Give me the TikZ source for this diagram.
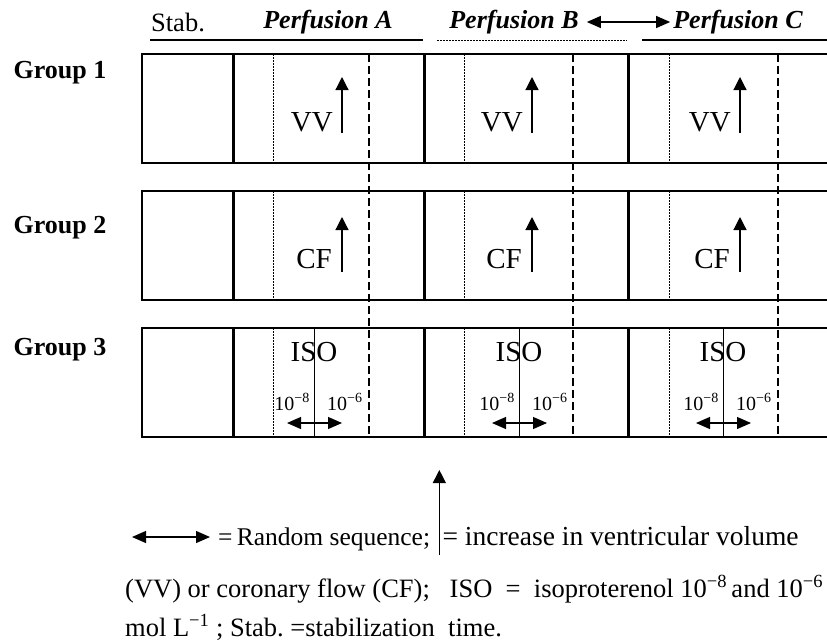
\documentclass[tikz,border=0pt]{standalone}
\usepackage{fontspec}
\setmainfont{Liberation Serif}
\usetikzlibrary{arrows.meta,positioning}
\begin{document}
\begin{tikzpicture}
  [
  x=1pt,y=-1pt,
  txt/.style={inner sep=0pt,font=\fontsize{26.5}{30}\selectfont},
  bigtxt/.style={inner sep=0pt,font=\fontsize{27.5}{30}\selectfont},
  smalltxt/.style={inner sep=0pt,font=\fontsize{25.5}{28}\selectfont},
  grouplabel/.style={inner sep=0pt,font=\fontsize{26}{30}\selectfont\bfseries},
  perfhead/.style={inner sep=0pt,font=\fontsize{26}{30}\selectfont\bfseries\itshape},
  tag/.style={inner sep=0pt,font=\fontsize{29}{32}\selectfont},
  conc/.style={inner sep=0pt,font=\fontsize{20}{24}\selectfont},
  frame/.style={line width=1.1pt},
  thickbar/.style={line width=3pt},
  thinbar/.style={line width=0.7pt},
  dotbar/.style={line width=0.8pt,dash pattern=on 1.5pt off 1.5pt},
  dashbar/.style={line width=1.1pt,dash pattern=on 8pt off 4pt},
  upar/.style={line width=1.2pt,-{Triangle[length=13pt,width=13pt]}},
  rand/.style={line width=1.2pt,{Triangle[length=14pt,width=12pt]}-{Triangle[length=14pt,width=12pt]}}
  ]
  \useasboundingbox (0,0) rectangle (827,643);

  % header
  \node (stab) at (178,22) [txt] {Stab.};
  \node (perfA) at (328,22) [perfhead] {Perfusion A};
  \node (perfB) at (514,22) [perfhead] {Perfusion B};
  \node (perfC) at (738,22) [perfhead] {Perfusion C};
  \draw [rand] ([xshift=8pt]perfB.east) -- ([xshift=-3pt]perfC.west);
  \draw [frame] (150,40) -- (423,40);
  \draw [dotbar] (437,40) -- (627,40);
  \draw [frame] (642,40) -- (830,40);

  % groups
  \foreach \g/\gtop/\ly in {1/54/73,2/191/228,3/328/350}
  {
    \draw [frame] (830,\gtop) -- (142,\gtop) -- (142,\gtop+109) -- (830,\gtop+109);
    \node (group\g) at (60,\ly) [grouplabel] {Group \g};
    \foreach \px in {233,424,628}
      \draw [thickbar] (\px,\gtop) -- (\px,\gtop+109);
    \foreach \px in {273,464,669}
      \draw [dotbar] (\px,\gtop) -- (\px,\gtop+109);
  }
  \foreach \px in {369,573,778}
    \draw [dashbar] (\px,54) -- (\px,437);

  % VV and CF
  \foreach \px [count=\k] in {342,532,740}
  {
    \node (vv\k) at (\px-9,54+77) [tag,anchor=base east] {VV};
    \coordinate (vvlo\k) at (\px,54+79);
    \coordinate (vvhi\k) at (\px,54+23);
    \draw [upar] (vvlo\k) -- (vvhi\k);
    \node (cf\k) at (\px-10,191+77) [tag,anchor=base east] {CF};
    \coordinate (cflo\k) at (\px,191+81);
    \coordinate (cfhi\k) at (\px,191+26);
    \draw [upar] (cflo\k) -- (cfhi\k);
  }

  % ISO
  \foreach \t [count=\k] in {314,519,723}
  {
    \draw [thinbar] (\t,328) -- (\t,437);
    \node (iso\k) at (\t,352) [tag] {ISO};
    \node (lo\k) at (\t-4,410) [conc,anchor=base east] {10\textsuperscript{−8}};
    \node (hi\k) at (\t+13,410) [conc,anchor=base west] {10\textsuperscript{−6}};
    \coordinate (rl\k) at (\t-27,423);
    \coordinate (rr\k) at (\t+28,423);
    \draw [rand] (rl\k) -- (rr\k);
  }

  % legend
  \coordinate (keyl) at (132,537);
  \coordinate (keyr) at (210,537);
  \draw [rand] (keyl) -- (keyr);
  \node (keyrand) at (218,545) [smalltxt,anchor=base west] {=\,Random sequence;};
  \coordinate (keylo) at ([xshift=9pt]keyrand.base east |- 0,555);
  \coordinate (keyhi) at ([xshift=9pt]keyrand.base east |- 0,470);
  \draw [upar] (keylo) -- (keyhi);
  \node (keyinc) at ([xshift=3pt]keylo |- keyrand.base) [bigtxt,anchor=base west] {= increase in ventricular volume};
  \node (keyiso) at (125,597) [txt,anchor=base west] {(VV) or coronary flow (CF);\ \ \ ISO\ \ =\ \ isoproterenol 10\textsuperscript{−8}\,and 10\textsuperscript{−6}};
  \node (keymol) at (125,636) [txt,anchor=base west] {mol L\textsuperscript{−1} ; Stab.\ =stabilization\ \ time.};
\end{tikzpicture}
\end{document}
